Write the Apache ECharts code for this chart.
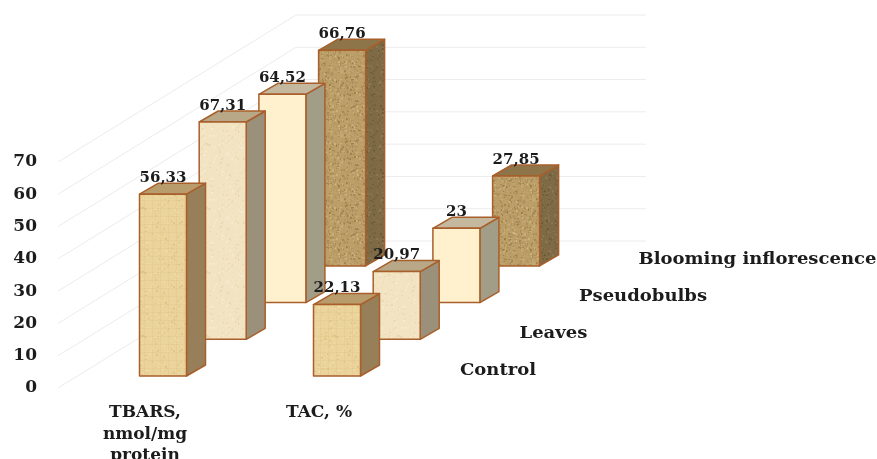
<!DOCTYPE html>
<html><head><meta charset="utf-8">
<style>html,body{margin:0;padding:0;background:#fff}#c{width:877px;height:459px}</style>
<script src="https://cdn.jsdelivr.net/npm/echarts@6/dist/echarts.min.js"></script>
</head><body><div id="c"></div>
<script>
const categories = ['TBARS,\nnmol/mg\nprotein', 'TAC, %'];
const depthNames = ['Control', 'Leaves', 'Pseudobulbs', 'Blooming inflorescence'];
const control = [56.33, 22.13];
const leaves = [67.31, 20.97];
const pseudobulbs = [64.52, 23];
const blooming = [66.76, 27.85];
const yTicks = [0, 10, 20, 30, 40, 50, 60, 70];

const FONT = '"DejaVu Serif"';
const STEP = [59.7, -36.7], BASE = [18, -12], BAR_W = 47, SIDE = [19, -11];
const WALL = [238, -147];

function texture(base, dots, amount, weave) {
  const size = 64, c = document.createElement('canvas');
  c.width = c.height = size;
  const g = c.getContext('2d');
  g.fillStyle = base; g.fillRect(0, 0, size, size);
  let s = 12345;
  const next = () => (s = (s * 1103515245 + 12345) & 0x7fffffff) / 0x7fffffff;
  g.filter = 'blur(0.7px)';
  for (let i = 0; i < amount; i++) {
    g.fillStyle = dots[Math.floor(next() * dots.length)];
    g.globalAlpha = 0.2 + next() * 0.4;
    g.fillRect(Math.floor(next() * size), Math.floor(next() * size), 1 + Math.floor(next() * 2), 1 + Math.floor(next() * 2));
  }
  if (weave) {
    g.globalAlpha = 0.18; g.fillStyle = dots[0];
    for (let i = 0; i < size; i += weave) { g.fillRect(i, 0, 1, size); g.fillRect(0, i, size, 1); }
  }
  return { image: c, repeat: 'repeat' };
}
const styles = [
  { front: texture('#EBD39C', ['#D9B873', '#F3E0B2'], 300, 8), top: '#B99C6B', side: '#978059' },
  { front: texture('#F2E3C2', ['#E3CFA0', '#F9F0DA'], 300, 0), top: '#B9A888', side: '#9B917B' },
  { front: '#FFF0CE', top: '#C4B89E', side: '#A29D86' },
  { front: texture('#BC9F68', ['#8C6F3E', '#D6BC88', '#A3854F'], 900, 0),
    top: '#8D7449', side: texture('#7E6A44', ['#5F4E2E', '#95805A'], 500, 0) }
];
const EDGE = '#A95F2B';

function barItem(s) {
  return function (params, api) {
    const cat = api.value(0), val = api.value(1);
    const p0 = api.coord([cat, 0]), p1 = api.coord([cat, val]);
    const x0 = p0[0] - BAR_W / 2 + BASE[0] + s * STEP[0], x1 = x0 + BAR_W;
    const off = BASE[1] + s * STEP[1];
    const yB = p0[1] + off, yT = p1[1] + off;
    const st = styles[s];
    const edge = { stroke: EDGE, lineWidth: 1.5, lineJoin: 'round' };
    return { type: 'group', children: [
      { type: 'polygon', shape: { points: [[x1, yB], [x1 + SIDE[0], yB + SIDE[1]], [x1 + SIDE[0], yT + SIDE[1]], [x1, yT]] },
        style: Object.assign({ fill: st.side }, edge) },
      { type: 'polygon', shape: { points: [[x0, yT], [x1, yT], [x1 + SIDE[0], yT + SIDE[1]], [x0 + SIDE[0], yT + SIDE[1]]] },
        style: Object.assign({ fill: st.top }, edge) },
      { type: 'polygon', shape: { points: [[x0, yB], [x1, yB], [x1, yT], [x0, yT]] },
        style: Object.assign({ fill: st.front }, edge) }
    ] };
  };
}
function barSeries(s, values) {
  return { type: 'custom', name: depthNames[s], z: 3, renderItem: barItem(s),
    data: values.map((v, i) => [i, v]), clip: false, silent: true };
}
function labelSeries(s, values) {
  return { type: 'custom', z: 5, silent: true, clip: false,
    data: values.map((v, i) => [i, v]),
    renderItem(params, api) {
      const p = api.coord([api.value(0), api.value(1)]);
      return { type: 'text', style: {
        x: p[0] + BASE[0] + s * STEP[0], y: p[1] + BASE[1] + s * STEP[1] - 16,
        text: String(api.value(1)).replace('.', ','), align: 'center', verticalAlign: 'middle',
        font: 'bold 15px ' + FONT, fill: '#1c1c1c' } };
    } };
}
const wallSeries = { type: 'custom', z: 1, silent: true, clip: false,
  data: yTicks.map(v => [0, v]),
  renderItem(params, api) {
    const a = api.coord([0, api.value(1)]);
    const left = a[0] - 87;
    return { type: 'polyline', shape: { points: [[left, a[1]], [left + WALL[0], a[1] + WALL[1]], [left + WALL[0] + 350, a[1] + WALL[1]]] },
      style: { fill: 'none', stroke: '#ececec', lineWidth: 1 } };
  } };
const depthSeries = { type: 'custom', z: 4, silent: true, clip: false,
  data: depthNames.map((n, i) => [1, 0, i]),
  renderItem(params, api) {
    const p = api.coord([1, 0]), i = api.value(2);
    return { type: 'text', x: p[0] + 141 + i * 59.5, y: p[1] - 17 - i * 37, scaleX: 1.125,
      style: { x: 0, y: 0, text: depthNames[i], align: 'left', verticalAlign: 'middle',
        font: 'bold 16px ' + FONT, fill: '#1c1c1c' } };
  } };

const chart = echarts.init(document.getElementById('c'), null, { renderer: 'canvas' });
chart.setOption({
  animation: false,
  backgroundColor: '#fff',
  grid: { left: 58, width: 348, top: 162, height: 226, outerBoundsMode: 'none' },
  xAxis: { type: 'category', data: categories,
    axisLine: { show: false }, axisTick: { show: false }, splitLine: { show: false },
    axisLabel: { margin: 14, interval: 0, fontFamily: FONT, fontWeight: 'bold', fontSize: 17, color: '#1c1c1c', lineHeight: 21.5 } },
  yAxis: { type: 'value', min: 0, max: 70, interval: 10,
    axisLine: { show: false }, axisTick: { show: false }, splitLine: { show: false },
    axisLabel: { margin: 21, fontFamily: FONT, fontWeight: 'bold', fontSize: 17, color: '#1c1c1c' } },
  series: [wallSeries,
    barSeries(3, blooming), barSeries(2, pseudobulbs), barSeries(1, leaves), barSeries(0, control),
    depthSeries,
    labelSeries(3, blooming), labelSeries(2, pseudobulbs), labelSeries(1, leaves), labelSeries(0, control)]
});
</script></body></html>
